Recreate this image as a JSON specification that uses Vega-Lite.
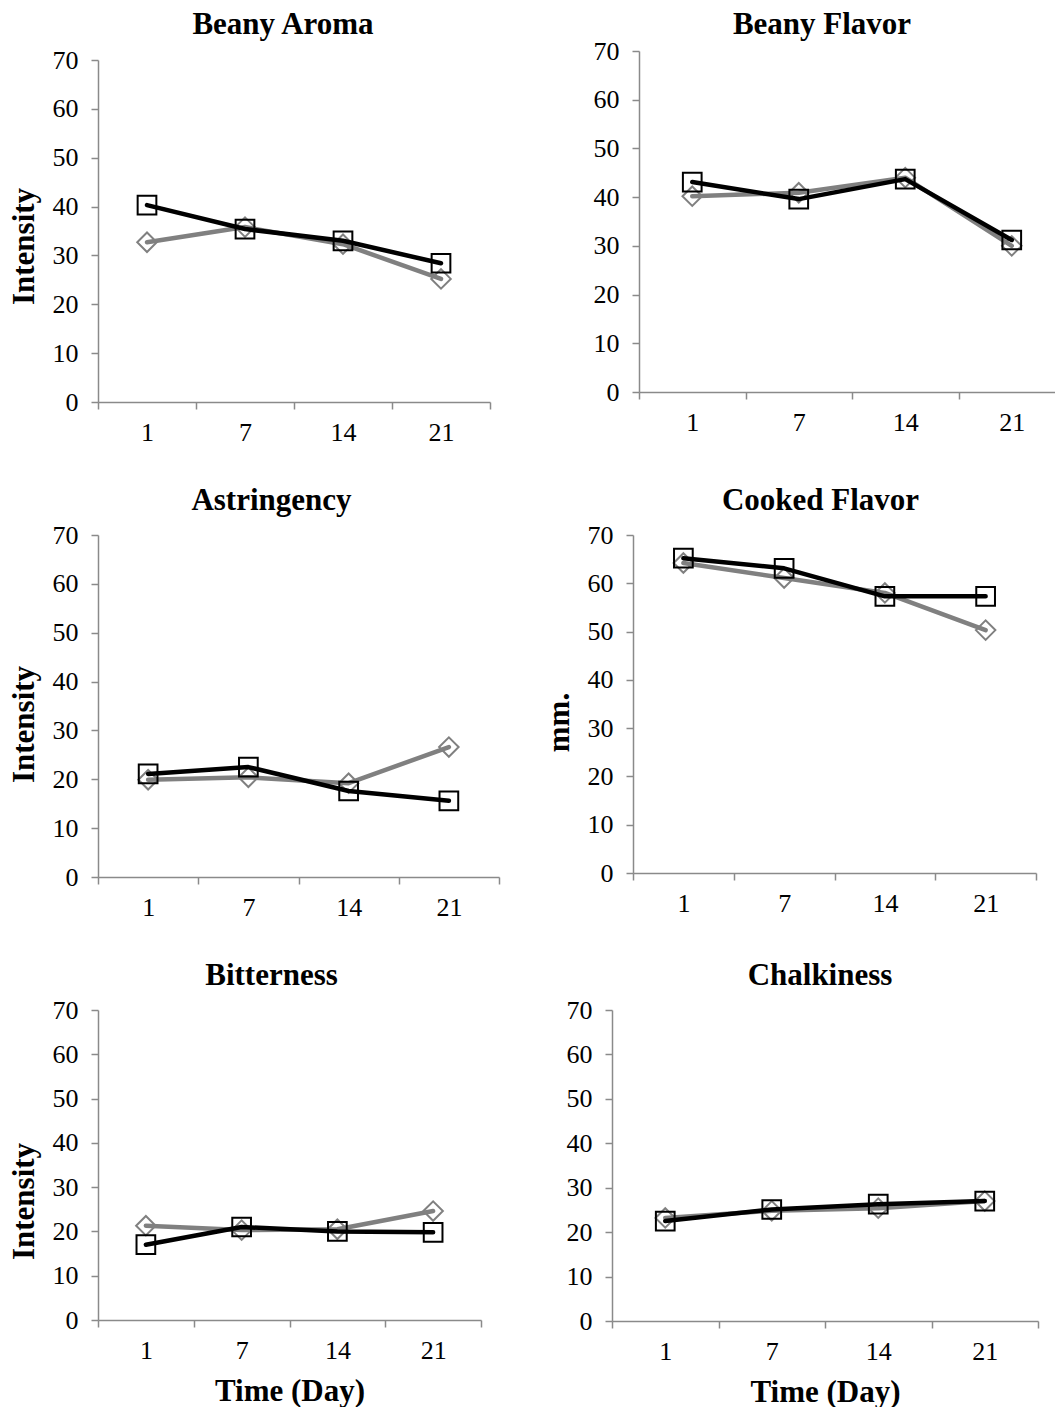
{
  "$schema": "https://vega.github.io/schema/vega-lite/v6.json",
  "background": "white",
  "padding": {"left": 8, "top": 9, "right": 0, "bottom": 0},
  "spacing": 40,
  "config": {
    "font": "Liberation Serif",
    "view": {"stroke": null},
    "axis": {
      "domainColor": "#8a8a8a", "tickColor": "#8a8a8a", "domainWidth": 1.5, "tickWidth": 1.5, "tickSize": 7,
      "labelFont": "Liberation Serif", "labelFontSize": 26, "labelColor": "black", "grid": false,
      "titleFont": "Liberation Serif", "titleFontSize": 31, "titleFontWeight": "bold", "titleColor": "black"
    },
    "axisX": {"labelAngle": 0, "labelPadding": 10, "titlePadding": 13},
    "axisY": {"values": [0, 10, 20, 30, 40, 50, 60, 70], "labelPadding": 13, "titlePadding": 12},
    "title": {"font": "Liberation Serif", "fontSize": 31, "fontWeight": "bold", "color": "black", "frame": "group"}
  },
  "datasets": {
    "d": [
      {"panel": "Beany Aroma", "series": "A", "day": 1, "value": 32.7},
      {"panel": "Beany Aroma", "series": "A", "day": 7, "value": 35.8},
      {"panel": "Beany Aroma", "series": "A", "day": 14, "value": 32.3},
      {"panel": "Beany Aroma", "series": "A", "day": 21, "value": 25.2},
      {"panel": "Beany Aroma", "series": "B", "day": 1, "value": 40.3},
      {"panel": "Beany Aroma", "series": "B", "day": 7, "value": 35.4},
      {"panel": "Beany Aroma", "series": "B", "day": 14, "value": 33.0},
      {"panel": "Beany Aroma", "series": "B", "day": 21, "value": 28.4},
      {"panel": "Beany Flavor", "series": "A", "day": 1, "value": 40.2},
      {"panel": "Beany Flavor", "series": "A", "day": 7, "value": 40.9},
      {"panel": "Beany Flavor", "series": "A", "day": 14, "value": 44.0},
      {"panel": "Beany Flavor", "series": "A", "day": 21, "value": 30.0},
      {"panel": "Beany Flavor", "series": "B", "day": 1, "value": 43.1},
      {"panel": "Beany Flavor", "series": "B", "day": 7, "value": 39.6},
      {"panel": "Beany Flavor", "series": "B", "day": 14, "value": 43.7},
      {"panel": "Beany Flavor", "series": "B", "day": 21, "value": 31.2},
      {"panel": "Astringency", "series": "A", "day": 1, "value": 19.9},
      {"panel": "Astringency", "series": "A", "day": 7, "value": 20.4},
      {"panel": "Astringency", "series": "A", "day": 14, "value": 19.2},
      {"panel": "Astringency", "series": "A", "day": 21, "value": 26.6},
      {"panel": "Astringency", "series": "B", "day": 1, "value": 21.1},
      {"panel": "Astringency", "series": "B", "day": 7, "value": 22.5},
      {"panel": "Astringency", "series": "B", "day": 14, "value": 17.6},
      {"panel": "Astringency", "series": "B", "day": 21, "value": 15.6},
      {"panel": "Cooked Flavor", "series": "A", "day": 1, "value": 64.2},
      {"panel": "Cooked Flavor", "series": "A", "day": 7, "value": 61.1},
      {"panel": "Cooked Flavor", "series": "A", "day": 14, "value": 58.0},
      {"panel": "Cooked Flavor", "series": "A", "day": 21, "value": 50.3},
      {"panel": "Cooked Flavor", "series": "B", "day": 1, "value": 65.2},
      {"panel": "Cooked Flavor", "series": "B", "day": 7, "value": 63.1},
      {"panel": "Cooked Flavor", "series": "B", "day": 14, "value": 57.3},
      {"panel": "Cooked Flavor", "series": "B", "day": 21, "value": 57.3},
      {"panel": "Bitterness", "series": "A", "day": 1, "value": 21.3},
      {"panel": "Bitterness", "series": "A", "day": 7, "value": 20.3},
      {"panel": "Bitterness", "series": "A", "day": 14, "value": 20.5},
      {"panel": "Bitterness", "series": "A", "day": 21, "value": 24.6},
      {"panel": "Bitterness", "series": "B", "day": 1, "value": 17.0},
      {"panel": "Bitterness", "series": "B", "day": 7, "value": 21.0},
      {"panel": "Bitterness", "series": "B", "day": 14, "value": 20.0},
      {"panel": "Bitterness", "series": "B", "day": 21, "value": 19.8},
      {"panel": "Chalkiness", "series": "A", "day": 1, "value": 23.2},
      {"panel": "Chalkiness", "series": "A", "day": 7, "value": 24.8},
      {"panel": "Chalkiness", "series": "A", "day": 14, "value": 25.4},
      {"panel": "Chalkiness", "series": "A", "day": 21, "value": 27.0},
      {"panel": "Chalkiness", "series": "B", "day": 1, "value": 22.5},
      {"panel": "Chalkiness", "series": "B", "day": 7, "value": 25.1},
      {"panel": "Chalkiness", "series": "B", "day": 14, "value": 26.3},
      {"panel": "Chalkiness", "series": "B", "day": 21, "value": 27.0}
    ]
  },
  "data": {"name": "d"},
  "vconcat": [
    {
      "spacing": 102,
      "hconcat": [
        {
          "width": 392, "height": 351,
          "title": {"text": "Beany Aroma", "dx": -11, "offset": 6},
          "transform": [{"filter": "datum.panel === 'Beany Aroma'"}],
          "encoding": {
            "x": {"field": "day", "type": "ordinal", "sort": [1, 7, 14, 21], "scale": {"paddingInner": 0, "paddingOuter": 0}, "axis": {"title": null, "tickBand": "extent"}},
            "y": {"field": "value", "type": "quantitative", "scale": {"domain": [0, 70], "nice": false, "range": [351, 9]}, "axis": {"title": "Intensity", "titleY": 195}}
          },
          "layer": [
            {"transform": [{"filter": "datum.series === 'A'"}], "mark": {"type": "line", "stroke": "#808080", "strokeWidth": 4.5, "strokeCap": "round", "strokeJoin": "round"}},
            {"transform": [{"filter": "datum.series === 'A'"}], "mark": {"type": "point", "shape": "diamond", "filled": false, "stroke": "#808080", "strokeWidth": 2, "size": 380, "opacity": 1}},
            {"transform": [{"filter": "datum.series === 'B'"}], "mark": {"type": "line", "stroke": "black", "strokeWidth": 4.5, "strokeCap": "round", "strokeJoin": "round"}},
            {"transform": [{"filter": "datum.series === 'B'"}], "mark": {"type": "point", "shape": "square", "filled": false, "stroke": "black", "strokeWidth": 2, "size": 350, "opacity": 1}}
          ]
        },
        {
          "width": 426, "height": 341,
          "title": {"text": "Beany Flavor", "dx": -30, "offset": -3},
          "transform": [{"filter": "datum.panel === 'Beany Flavor'"}],
          "encoding": {
            "x": {"field": "day", "type": "ordinal", "sort": [1, 7, 14, 21], "scale": {"paddingInner": 0, "paddingOuter": 0}, "axis": {"title": null, "tickBand": "extent"}},
            "y": {"field": "value", "type": "quantitative", "scale": {"domain": [0, 70], "nice": false}, "axis": {"title": null}}
          },
          "layer": [
            {"transform": [{"filter": "datum.series === 'A'"}], "mark": {"type": "line", "stroke": "#808080", "strokeWidth": 4.5, "strokeCap": "round", "strokeJoin": "round"}},
            {"transform": [{"filter": "datum.series === 'A'"}], "mark": {"type": "point", "shape": "diamond", "filled": false, "stroke": "#808080", "strokeWidth": 2, "size": 380, "opacity": 1}},
            {"transform": [{"filter": "datum.series === 'B'"}], "mark": {"type": "line", "stroke": "black", "strokeWidth": 4.5, "strokeCap": "round", "strokeJoin": "round"}},
            {"transform": [{"filter": "datum.series === 'B'"}], "mark": {"type": "point", "shape": "square", "filled": false, "stroke": "black", "strokeWidth": 2, "size": 350, "opacity": 1}}
          ]
        }
      ]
    },
    {
      "spacing": 43,
      "hconcat": [
        {
          "width": 401, "height": 342,
          "title": {"text": "Astringency", "dx": -27, "offset": 5},
          "transform": [{"filter": "datum.panel === 'Astringency'"}],
          "encoding": {
            "x": {"field": "day", "type": "ordinal", "sort": [1, 7, 14, 21], "scale": {"paddingInner": 0, "paddingOuter": 0}, "axis": {"title": null, "tickBand": "extent"}},
            "y": {"field": "value", "type": "quantitative", "scale": {"domain": [0, 70], "nice": false}, "axis": {"title": "Intensity", "titleY": 189}}
          },
          "layer": [
            {"transform": [{"filter": "datum.series === 'A'"}], "mark": {"type": "line", "stroke": "#808080", "strokeWidth": 4.5, "strokeCap": "round", "strokeJoin": "round"}},
            {"transform": [{"filter": "datum.series === 'A'"}], "mark": {"type": "point", "shape": "diamond", "filled": false, "stroke": "#808080", "strokeWidth": 2, "size": 380, "opacity": 1}},
            {"transform": [{"filter": "datum.series === 'B'"}], "mark": {"type": "line", "stroke": "black", "strokeWidth": 4.5, "strokeCap": "round", "strokeJoin": "round"}},
            {"transform": [{"filter": "datum.series === 'B'"}], "mark": {"type": "point", "shape": "square", "filled": false, "stroke": "black", "strokeWidth": 2, "size": 350, "opacity": 1}}
          ]
        },
        {
          "width": 403, "height": 338,
          "title": {"text": "Cooked Flavor", "dx": -14, "offset": 5},
          "transform": [{"filter": "datum.panel === 'Cooked Flavor'"}],
          "encoding": {
            "x": {"field": "day", "type": "ordinal", "sort": [1, 7, 14, 21], "scale": {"paddingInner": 0, "paddingOuter": 0}, "axis": {"title": null, "tickBand": "extent"}},
            "y": {"field": "value", "type": "quantitative", "scale": {"domain": [0, 70], "nice": false}, "axis": {"title": "mm.", "titleY": 187}}
          },
          "layer": [
            {"transform": [{"filter": "datum.series === 'A'"}], "mark": {"type": "line", "stroke": "#808080", "strokeWidth": 4.5, "strokeCap": "round", "strokeJoin": "round"}},
            {"transform": [{"filter": "datum.series === 'A'"}], "mark": {"type": "point", "shape": "diamond", "filled": false, "stroke": "#808080", "strokeWidth": 2, "size": 380, "opacity": 1}},
            {"transform": [{"filter": "datum.series === 'B'"}], "mark": {"type": "line", "stroke": "black", "strokeWidth": 4.5, "strokeCap": "round", "strokeJoin": "round"}},
            {"transform": [{"filter": "datum.series === 'B'"}], "mark": {"type": "point", "shape": "square", "filled": false, "stroke": "black", "strokeWidth": 2, "size": 350, "opacity": 1}}
          ]
        }
      ]
    },
    {
      "spacing": 84,
      "hconcat": [
        {
          "width": 383, "height": 310,
          "title": {"text": "Bitterness", "dx": -18, "offset": 5},
          "transform": [{"filter": "datum.panel === 'Bitterness'"}],
          "encoding": {
            "x": {"field": "day", "type": "ordinal", "sort": [1, 7, 14, 21], "scale": {"paddingInner": 0, "paddingOuter": 0}, "axis": {"title": "Time (Day)", "tickBand": "extent"}},
            "y": {"field": "value", "type": "quantitative", "scale": {"domain": [0, 70], "nice": false}, "axis": {"title": "Intensity", "titleY": 191}}
          },
          "layer": [
            {"transform": [{"filter": "datum.series === 'A'"}], "mark": {"type": "line", "stroke": "#808080", "strokeWidth": 4.5, "strokeCap": "round", "strokeJoin": "round"}},
            {"transform": [{"filter": "datum.series === 'A'"}], "mark": {"type": "point", "shape": "diamond", "filled": false, "stroke": "#808080", "strokeWidth": 2, "size": 380, "opacity": 1}},
            {"transform": [{"filter": "datum.series === 'B'"}], "mark": {"type": "line", "stroke": "black", "strokeWidth": 4.5, "strokeCap": "round", "strokeJoin": "round"}},
            {"transform": [{"filter": "datum.series === 'B'"}], "mark": {"type": "point", "shape": "square", "filled": false, "stroke": "black", "strokeWidth": 2, "size": 350, "opacity": 1}}
          ]
        },
        {
          "width": 426, "height": 311,
          "title": {"text": "Chalkiness", "dx": -5, "offset": 5},
          "transform": [{"filter": "datum.panel === 'Chalkiness'"}],
          "encoding": {
            "x": {"field": "day", "type": "ordinal", "sort": [1, 7, 14, 21], "scale": {"paddingInner": 0, "paddingOuter": 0}, "axis": {"title": "Time (Day)", "tickBand": "extent"}},
            "y": {"field": "value", "type": "quantitative", "scale": {"domain": [0, 70], "nice": false}, "axis": {"title": null}}
          },
          "layer": [
            {"transform": [{"filter": "datum.series === 'A'"}], "mark": {"type": "line", "stroke": "#808080", "strokeWidth": 4.5, "strokeCap": "round", "strokeJoin": "round"}},
            {"transform": [{"filter": "datum.series === 'A'"}], "mark": {"type": "point", "shape": "diamond", "filled": false, "stroke": "#808080", "strokeWidth": 2, "size": 380, "opacity": 1}},
            {"transform": [{"filter": "datum.series === 'B'"}], "mark": {"type": "line", "stroke": "black", "strokeWidth": 4.5, "strokeCap": "round", "strokeJoin": "round"}},
            {"transform": [{"filter": "datum.series === 'B'"}], "mark": {"type": "point", "shape": "square", "filled": false, "stroke": "black", "strokeWidth": 2, "size": 350, "opacity": 1}}
          ]
        }
      ]
    }
  ]
}
